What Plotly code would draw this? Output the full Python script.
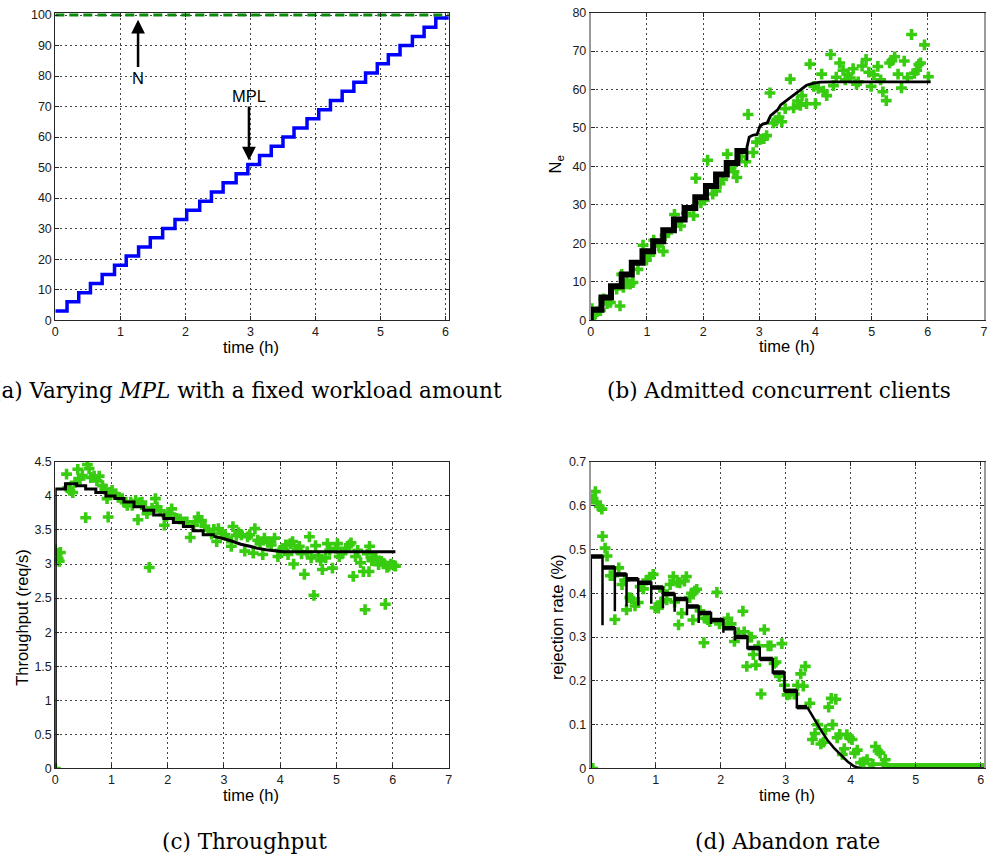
import plotly.graph_objects as go

# ---------------- (a) MPL staircase and N ----------------
mpl_step_t = [0, 0.18, 0.36, 0.54, 0.72, 0.91, 1.09, 1.28, 1.46, 1.65,
              1.84, 2.02, 2.22, 2.40, 2.58, 2.78, 2.96, 3.14, 3.32, 3.50,
              3.67, 3.87, 4.05, 4.23, 4.41, 4.59, 4.77, 4.95, 5.12, 5.30,
              5.49, 5.67, 5.85, 6.05]
mpl_level = [3, 6, 9, 12, 15, 18, 21, 24, 27, 30,
             33, 36, 39, 42, 45, 48, 51, 54, 57, 60,
             63, 66, 69, 72, 75, 78, 81, 84, 87, 90,
             93, 96, 99, 99]
n_t = [0, 6.05]
n_val = [100, 100]

# ---------------- (b) admitted concurrent clients ----------------
b_t = [0.00, 0.02, 0.08, 0.11, 0.17, 0.23, 0.29, 0.35, 0.46, 0.52,
       0.55, 0.58, 0.64, 0.70, 0.75, 0.84, 0.93, 0.99, 1.05, 1.12,
       1.21, 1.29, 1.32, 1.37, 1.49, 1.55, 1.60, 1.70, 1.83, 1.87,
       1.96, 2.02, 2.08, 2.17, 2.23, 2.30, 2.35, 2.43, 2.50, 2.55,
       2.60, 2.68, 2.76, 2.80, 2.89, 2.95, 3.02, 3.08, 3.13, 3.19,
       3.25, 3.30, 3.35, 3.40, 3.46, 3.55, 3.61, 3.68, 3.73, 3.76,
       3.84, 3.90, 3.97, 4.00, 4.05, 4.11, 4.14, 4.20, 4.27, 4.32,
       4.37, 4.43, 4.49, 4.53, 4.58, 4.62, 4.67, 4.73, 4.76, 4.83,
       4.90, 4.95, 4.99, 5.04, 5.11, 5.16, 5.20, 5.26, 5.32, 5.36,
       5.41, 5.47, 5.53, 5.58, 5.64, 5.71, 5.76, 5.80, 5.84, 5.87,
       5.94, 6.01]
b_n = [0.0, 3.0, 1.7, 2.2, 2.5, 5.5, 4.3, 4.6, 8.1, 3.7,
       11.9, 8.5, 10.3, 9.4, 9.8, 13.2, 19.5, 15.6, 16.9, 20.8,
       19.3, 17.9, 22.0, 22.7, 27.5, 25.4, 24.5, 27.8, 27.2, 36.9,
       30.5, 31.2, 41.6, 32.8, 33.6, 35.5, 36.6, 43.2, 39.8, 38.6,
       37.1, 42.6, 41.2, 53.5, 43.6, 46.3, 47.0, 47.2, 48.0, 59.1,
       51.3, 51.8, 52.8, 51.6, 55.0, 62.7, 55.2, 57.0, 55.9, 58.4,
       56.3, 66.6, 60.8, 56.3, 60.3, 64.0, 59.6, 58.4, 69.1, 61.0,
       63.2, 66.9, 65.0, 62.5, 64.0, 63.0, 65.4, 61.4, 62.0, 66.1,
       67.8, 64.5, 60.8, 63.8, 66.0, 62.5, 59.4, 57.1, 66.9, 67.5,
       68.5, 64.0, 60.4, 67.4, 63.1, 74.3, 64.2, 65.0, 66.5, 66.9,
       71.6, 63.3]
b_stair_t = [0, 0, 0.19, 0.36, 0.55, 0.73, 0.92, 1.11, 1.29, 1.48,
             1.67, 1.86, 2.05, 2.23, 2.42, 2.61, 2.78]
b_stair_n = [0, 2.7, 5.9, 8.8, 11.9, 14.9, 17.9, 20.5, 23.4, 26.2,
             29.2, 32.0, 34.9, 37.9, 40.9, 44.0, 44.0]
b_curve_t = [2.78, 2.78, 2.82, 2.88, 2.96, 3.01, 3.06, 3.14, 3.20, 3.27,
             3.33, 3.38, 3.46, 3.53, 3.61, 3.68, 3.75, 3.84, 3.95, 4.08,
             4.30, 6.05]
b_curve_n = [41.5, 45.0, 47.6, 48.1, 48.3, 50.4, 51.0, 51.3, 53.2, 54.0,
             54.8, 56.0, 56.9, 57.6, 58.5, 59.4, 60.3, 61.1, 61.6, 61.9,
             62.0, 62.0]

# ---------------- (c) throughput ----------------
c_t = [0.00, 0.00, 0.03, 0.05, 0.07, 0.09, 0.20, 0.22, 0.26, 0.31,
       0.35, 0.40, 0.44, 0.48, 0.54, 0.57, 0.60, 0.63, 0.69, 0.74,
       0.78, 0.84, 0.88, 0.92, 0.94, 0.98, 1.01, 1.07, 1.12, 1.19,
       1.24, 1.28, 1.34, 1.37, 1.43, 1.47, 1.50, 1.54, 1.60, 1.63,
       1.67, 1.72, 1.78, 1.81, 1.87, 1.94, 1.98, 2.01, 2.07, 2.12,
       2.16, 2.22, 2.28, 2.34, 2.40, 2.46, 2.50, 2.54, 2.60, 2.66,
       2.72, 2.78, 2.82, 2.87, 2.90, 2.96, 3.02, 3.07, 3.13, 3.16,
       3.22, 3.26, 3.31, 3.37, 3.42, 3.46, 3.52, 3.55, 3.60, 3.64,
       3.69, 3.72, 3.78, 3.84, 3.90, 3.96, 4.00, 4.05, 4.10, 4.14,
       4.18, 4.22, 4.24, 4.30, 4.34, 4.38, 4.43, 4.48, 4.52, 4.55,
       4.60, 4.63, 4.68, 4.72, 4.75, 4.81, 4.84, 4.88, 4.93, 4.99,
       5.02, 5.05, 5.10, 5.17, 5.23, 5.26, 5.30, 5.34, 5.38, 5.43,
       5.48, 5.51, 5.55, 5.58, 5.59, 5.63, 5.66, 5.70, 5.75, 5.80,
       5.84, 5.87, 5.90, 5.93, 5.97, 6.02, 6.05]
c_v = [0.00, 3.21, 3.14, 3.08, 3.04, 3.17, 4.32, 4.12, 4.08, 4.05,
       4.20, 4.39, 4.25, 4.30, 3.68, 4.46, 4.40, 4.27, 4.29, 4.22,
       4.29, 4.15, 4.10, 3.96, 3.69, 4.05, 4.08, 4.03, 3.98, 3.96,
       3.90, 3.86, 3.91, 3.86, 3.93, 3.65, 3.90, 3.91, 3.82, 3.74,
       2.95, 3.82, 3.96, 3.84, 3.78, 3.57, 3.70, 3.74, 3.81, 3.68,
       3.67, 3.66, 3.62, 3.62, 3.39, 3.57, 3.62, 3.69, 3.64, 3.55,
       3.50, 3.44, 3.51, 3.33, 3.52, 3.45, 3.43, 3.38, 3.26, 3.55,
       3.42, 3.46, 3.43, 3.19, 3.40, 3.43, 3.16, 3.52, 3.35, 3.30,
       3.14, 3.38, 3.32, 3.28, 3.38, 3.11, 3.20, 3.23, 3.28, 3.14,
       3.30, 3.33, 3.00, 3.22, 3.26, 3.15, 2.85, 3.18, 3.40, 3.09,
       2.54, 3.27, 3.12, 3.05, 2.92, 3.09, 3.30, 3.20, 2.94, 3.23,
       3.30, 3.11, 3.15, 3.23, 3.28, 3.31, 2.82, 3.11, 3.20, 3.02,
       2.89, 2.33, 3.15, 2.89, 3.26, 3.05, 3.09, 3.10, 2.99, 3.04,
       3.01, 2.41, 2.95, 2.97, 3.00, 2.98, 2.97]
c_stair_t = [0, 0, 0.18, 0.38, 0.54, 0.72, 0.90, 1.06, 1.22, 1.40,
             1.57, 1.75, 1.93, 2.10, 2.28, 2.45, 2.63, 2.81]
c_stair_v = [0, 4.10, 4.18, 4.15, 4.10, 4.05, 4.00, 3.96, 3.91, 3.84,
             3.79, 3.72, 3.67, 3.61, 3.55, 3.49, 3.43, 3.41]
c_curve_t = [2.81, 2.87, 3.00, 3.16, 3.30, 3.46, 3.60, 3.75, 3.90, 4.05, 6.05]
c_curve_v = [3.41, 3.40, 3.37, 3.33, 3.29, 3.26, 3.23, 3.21, 3.19, 3.18, 3.18]

# ---------------- (d) abandon / rejection rate ----------------
d_t = [0.00, 0.03, 0.03, 0.07, 0.09, 0.13, 0.17, 0.18, 0.22, 0.25,
       0.30, 0.35, 0.37, 0.43, 0.48, 0.52, 0.55, 0.60, 0.63, 0.68,
       0.73, 0.76, 0.81, 0.86, 0.91, 0.96, 0.99, 1.04, 1.08, 1.12,
       1.17, 1.22, 1.27, 1.29, 1.33, 1.35, 1.37, 1.40, 1.44, 1.47,
       1.52, 1.55, 1.57, 1.60, 1.63, 1.68, 1.74, 1.75, 1.80, 1.83,
       1.94, 1.98, 2.05, 2.11, 2.16, 2.21, 2.27, 2.34, 2.36, 2.40,
       2.44, 2.47, 2.50, 2.54, 2.58, 2.62, 2.67, 2.73, 2.77, 2.82,
       2.85, 2.90, 2.94, 2.98, 3.02, 3.06, 3.13, 3.18, 3.23, 3.27,
       3.30, 3.37, 3.41, 3.45, 3.49, 3.54, 3.58, 3.61, 3.66, 3.70,
       3.72, 3.77, 3.79, 3.83, 3.87, 3.90, 3.94, 3.98, 4.02, 4.06,
       4.10, 4.15, 4.20, 4.25, 4.30, 4.34, 4.38, 4.42, 4.45, 4.50,
       4.53]
d_r = [0.000, 0.000, 0.615, 0.632, 0.608, 0.598, 0.592, 0.530, 0.503, 0.485,
       0.440, 0.440, 0.340, 0.458, 0.420, 0.430, 0.362, 0.390, 0.387, 0.371,
       0.379, 0.415, 0.410, 0.430, 0.437, 0.443, 0.367, 0.366, 0.380, 0.405,
       0.385, 0.420, 0.438, 0.380, 0.425, 0.328, 0.424, 0.354, 0.428, 0.438,
       0.390, 0.400, 0.339, 0.405, 0.409, 0.360, 0.287, 0.343, 0.340, 0.335,
       0.402, 0.330, 0.330, 0.343, 0.330, 0.290, 0.310, 0.359, 0.312, 0.233,
       0.300, 0.300, 0.260, 0.236, 0.280, 0.170, 0.317, 0.280, 0.280, 0.240,
       0.243, 0.210, 0.285, 0.190, 0.168, 0.170, 0.170, 0.190, 0.216, 0.188,
       0.233, 0.149, 0.066, 0.080, 0.100, 0.056, 0.060, 0.088, 0.140, 0.160,
       0.100, 0.158, 0.070, 0.078, 0.032, 0.045, 0.077, 0.070, 0.066, 0.035,
       0.042, 0.013, 0.015, 0.020, 0.000, 0.010, 0.050, 0.040, 0.035, 0.010,
       0.020]
d_zero_t = [4.56, 4.60, 4.64, 4.68, 4.72, 4.76, 4.80, 4.84, 4.88, 4.92,
            4.96, 5.00, 5.04, 5.08, 5.12, 5.16, 5.20, 5.24, 5.28, 5.32,
            5.36, 5.40, 5.44, 5.48, 5.52, 5.56, 5.60, 5.64, 5.68, 5.72,
            5.76, 5.80, 5.84, 5.88, 5.92, 5.96, 6.00, 6.04]
d_zero_r = [0.0, 0.0, 0.0, 0.0, 0.0, 0.0, 0.0, 0.0, 0.0, 0.0,
            0.0, 0.0, 0.0, 0.0, 0.0, 0.0, 0.0, 0.0, 0.0, 0.0,
            0.0, 0.0, 0.0, 0.0, 0.0, 0.0, 0.0, 0.0, 0.0, 0.0,
            0.0, 0.0, 0.0, 0.0, 0.0, 0.0, 0.0, 0.0]
d_step_end = [0.18, 0.37, 0.55, 0.73, 0.93, 1.11, 1.29, 1.48, 1.66, 1.85,
              2.04, 2.22, 2.41, 2.60, 2.80, 2.98, 3.17, 3.33]
d_step_level = [0.484, 0.459, 0.443, 0.432, 0.424, 0.413, 0.398, 0.387, 0.370, 0.355,
                0.339, 0.320, 0.300, 0.275, 0.250, 0.219, 0.177, 0.140]
d_step_spike = [0.327, 0.359, 0.370, 0.372, 0.376, 0.366, 0.358, 0.350, 0.332, 0.330,
                0.310, 0.292, 0.275, 0.250, 0.219, 0.177, 0.140]
d_curve_t = [3.33, 3.36, 3.46, 3.51, 3.56, 3.64, 3.74, 3.85, 3.95, 4.05, 4.15, 6.05]
d_curve_r = [0.140, 0.132, 0.106, 0.095, 0.083, 0.065, 0.047, 0.031, 0.016, 0.005, 0.0, 0.0]

# ---------------- styling ----------------
GREEN = "#38cc10"
W, H = 988, 865
SANS = "Liberation Sans, Arial, sans-serif"
SERIF = "DejaVu Serif, serif"

fig = go.Figure()

marker = dict(symbol="cross", size=9, color=GREEN, line=dict(width=0))

# (a)
fig.add_trace(go.Scatter(x=mpl_step_t, y=mpl_level, mode="lines", line_shape="hv",
                         line=dict(color="#0000ff", width=3.5), xaxis="x", yaxis="y"))
fig.add_trace(go.Scatter(x=n_t, y=n_val, mode="lines",
                         line=dict(color="#0a8a0a", width=3, dash="9px,5px"), xaxis="x", yaxis="y"))

# (b)
fig.add_trace(go.Scatter(x=b_t, y=b_n, mode="markers", marker=marker, xaxis="x2", yaxis="y2"))
fig.add_trace(go.Scatter(x=b_stair_t, y=b_stair_n, mode="lines", line_shape="hv",
                         line=dict(color="black", width=6), xaxis="x2", yaxis="y2"))
fig.add_trace(go.Scatter(x=b_curve_t, y=b_curve_n, mode="lines",
                         line=dict(color="black", width=2.8), xaxis="x2", yaxis="y2"))

# (c)
fig.add_trace(go.Scatter(x=c_t, y=c_v, mode="markers", marker=marker, xaxis="x3", yaxis="y3"))
fig.add_trace(go.Scatter(x=c_stair_t, y=c_stair_v, mode="lines", line_shape="hv",
                         line=dict(color="black", width=3), xaxis="x3", yaxis="y3"))
fig.add_trace(go.Scatter(x=c_curve_t, y=c_curve_v, mode="lines",
                         line=dict(color="black", width=3), xaxis="x3", yaxis="y3"))

# (d)
fig.add_trace(go.Scatter(x=d_t, y=d_r, mode="markers", marker=marker, xaxis="x4", yaxis="y4"))
fig.add_trace(go.Scatter(x=d_zero_t, y=d_zero_r, mode="markers", marker=marker, xaxis="x4", yaxis="y4"))
path_t, path_r = [0, 0], [0, d_step_level[0]]
for i, te in enumerate(d_step_end):
    if i < len(d_step_spike):
        path_t += [te, te, te]
        path_r += [d_step_level[i], d_step_spike[i], d_step_level[i + 1]]
    else:
        path_t += [te]
        path_r += [d_step_level[i]]
fig.add_trace(go.Scatter(x=path_t, y=path_r, mode="lines",
                         line=dict(color="black", width=2.5), xaxis="x4", yaxis="y4"))
plat_t, plat_r = [], []
start = 0
for te, lv in zip(d_step_end, d_step_level):
    plat_t += [start, te, None]
    plat_r += [lv, lv, None]
    start = te
fig.add_trace(go.Scatter(x=plat_t, y=plat_r, mode="lines",
                         line=dict(color="black", width=4.5), xaxis="x4", yaxis="y4"))
fig.add_trace(go.Scatter(x=d_curve_t, y=d_curve_r, mode="lines",
                         line=dict(color="black", width=2.5), xaxis="x4", yaxis="y4"))


def px_x(p):
    return p / W


def px_y(p):
    return 1 - p / H


axis_common = dict(showline=True, linecolor="#262626", linewidth=1, mirror="ticks",
                   ticks="inside", ticklen=4, tickcolor="#262626",
                   showgrid=True, gridcolor="#444444", griddash="2px,3px", gridwidth=1,
                   zeroline=False,
                   tickfont=dict(family=SANS, size=12.5, color="#1a1a1a"))

left_dom = [px_x(52.7), px_x(449)]
right_dom = [px_x(592), 1.0]
top_dom = [px_y(318.3), px_y(5.7)]
bot_dom = [px_y(774), px_y(462.3)]

fig.update_layout(
    width=W, height=H, margin=dict(l=0, r=0, t=0, b=0),
    paper_bgcolor="white", plot_bgcolor="white", showlegend=False,
    xaxis=dict(axis_common, domain=left_dom, range=[0, 6.05], dtick=1, anchor="y"),
    yaxis=dict(axis_common, domain=top_dom, range=[0, 100.8], dtick=10, anchor="x"),
    xaxis2=dict(axis_common, domain=right_dom, range=[0, 7], dtick=1, anchor="y2"),
    yaxis2=dict(axis_common, domain=top_dom, range=[0, 80], dtick=10, anchor="x2",
                linecolor="#9a9a9a", linewidth=2),
    xaxis3=dict(axis_common, domain=left_dom, range=[0, 7], dtick=1, anchor="y3"),
    yaxis3=dict(axis_common, domain=bot_dom, range=[0, 4.5], dtick=0.5, anchor="x3"),
    xaxis4=dict(axis_common, domain=right_dom, range=[0, 6.05], dtick=1, anchor="y4"),
    yaxis4=dict(axis_common, domain=bot_dom, range=[0, 0.7], dtick=0.1, anchor="x4",
                linecolor="#9a9a9a", linewidth=2),
)

title_font = dict(family=SANS, size=16.5, color="black")
cap_font = dict(family=SERIF, size=21.5, color="black")

ann = []
# axis titles
for (x, y, txt, ang) in [
    (250, 346, "time (h)", 0),
    (790, 345, "time (h)", 0),
    (557, 160, "N<sub>e</sub>", -90),
    (19, 620, "Throughput (req/s)", -90),
    (250, 801, "time (h)", 0),
    (558, 620, "rejection rate (%)", -90),
    (790, 801, "time (h)", 0),
]:
    ann.append(dict(x=px_x(x), y=px_y(y), xref="paper", yref="paper", text=txt,
                    showarrow=False, textangle=ang, font=title_font,
                    xanchor="center", yanchor="middle"))
# captions
ann.append(dict(x=px_x(505), y=px_y(390), xref="paper", yref="paper",
                text="(a) Varying <i>MPL</i> with a fixed workload amount",
                showarrow=False, font=cap_font, xanchor="right", yanchor="middle"))
ann.append(dict(x=px_x(782), y=px_y(390), xref="paper", yref="paper",
                text="(b) Admitted concurrent clients",
                showarrow=False, font=cap_font, xanchor="center", yanchor="middle"))
ann.append(dict(x=px_x(243), y=px_y(848), xref="paper", yref="paper",
                text="(c) Throughput",
                showarrow=False, font=cap_font, xanchor="center", yanchor="middle"))
ann.append(dict(x=px_x(790), y=px_y(848), xref="paper", yref="paper",
                text="(d) Abandon rate",
                showarrow=False, font=cap_font, xanchor="center", yanchor="middle"))
# arrows in (a)
ann.append(dict(x=1.272, y=98.5, xref="x", yref="y", ax=1.272, ay=79.5, axref="x", ayref="y",
                text="N", font=title_font, showarrow=True, arrowhead=2, arrowsize=1.1,
                arrowwidth=2.5, arrowcolor="black", standoff=0, startstandoff=0))
ann.append(dict(x=2.977, y=52.3, xref="x", yref="y", ax=2.977, ay=73.5, axref="x", ayref="y",
                text="MPL", font=title_font, showarrow=True, arrowhead=2, arrowsize=1.1,
                arrowwidth=2.5, arrowcolor="black", standoff=0, startstandoff=0))
fig.update_layout(annotations=ann)

fig.write_html("out.html", config={"displayModeBar": False},
               post_script="document.body.style.margin='0';")
